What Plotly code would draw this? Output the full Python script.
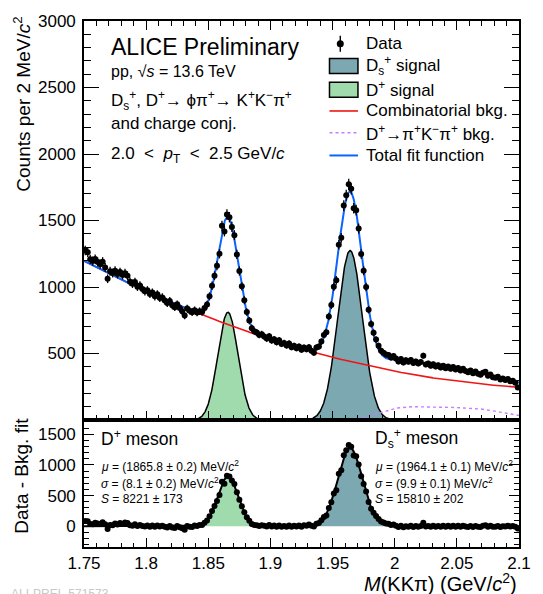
import numpy as np
import plotly.graph_objects as go

# ---------------- data ----------------
MASS_MIN, MASS_MAX, BIN_WIDTH = 1.75, 2.10, 0.002

counts = [
    1275, 1262, 1208, 1195, 1210, 1188, 1172, 1190, 1147, 1062,
    1118, 1105, 1122, 1098, 1112, 1090, 1104, 1085, 1040, 1025,
    1038, 1002, 1012, 985, 968, 975, 948, 958, 930, 945,
    918, 922, 898, 880, 895, 862, 848, 870, 842, 818,
    785, 838,
    822, 810, 825, 808, 818, 812, 842, 868, 930, 1010,
    1085, 1160, 1250, 1460, 1418, 1545, 1525, 1452, 1390, 1245,
    1120, 1005, 900, 812, 748, 690, 668, 658, 640,
    645, 628, 612, 630, 598, 608, 585, 600, 572, 580,
    560, 575, 548, 558, 540, 552, 528, 545, 532, 548,
    520, 505, 545, 552,
    590, 640, 660, 778, 865, 1002, 1050, 1318, 1370, 1612,
    1690, 1772, 1738, 1592, 1578, 1440, 1248, 1122, 1000, 830,
    722, 656, 606, 558, 520, 505, 492, 488, 470, 482,
    462, 440, 458, 432, 450, 438, 452, 428, 440, 425,
    436, 484, 418, 425, 408, 420, 402, 412, 395, 408,
    390, 402, 385, 398, 380, 392, 372, 385, 368, 360,
    372, 352, 364, 348, 340, 356, 362, 332, 342, 322,
    318, 326, 305, 312, 300, 308, 292, 296, 280, 245,
]

# fit results (from the figure)
DPLUS = dict(mu=1.8658, sigma=0.0081, S=8221)
DS = dict(mu=1.9641, sigma=0.0099, S=15810)
bkg_pol2 = [1196.0, -4835.0, 6067.0]          # combinatorial bkg, pol2 in (M - 1.75)
refl_mass = [1.94, 1.95, 1.96, 1.97, 1.98, 1.99, 2.00, 2.01, 2.02,
             2.03, 2.04, 2.05, 2.06, 2.07, 2.08, 2.09, 2.10]
refl_counts = [0, 0, 3, 8, 30, 60, 88, 100, 100,
               98, 96, 94, 90, 82, 68, 50, 34]

x_ticks = [1.75, 1.8, 1.85, 1.9, 1.95, 2.0, 2.05, 2.1]
x_ticktext = ["1.75", "1.8", "1.85", "1.9", "1.95", "2", "2.05", "2.1"]
y_ticks_top = [0, 500, 1000, 1500, 2000, 2500, 3000]
y_ticktext_top = ["", "500", "1000", "1500", "2000", "2500", "3000"]
y_ticks_bot = [0, 500, 1000, 1500]

# ---------------- derived ----------------
counts = np.array(counts, dtype=float)
mass = MASS_MIN + BIN_WIDTH * (np.arange(len(counts)) + 0.5)
err = np.sqrt(counts)


def gaus(x, p):
    return p["S"] * BIN_WIDTH / (np.sqrt(2 * np.pi) * p["sigma"]) * np.exp(-0.5 * ((x - p["mu"]) / p["sigma"]) ** 2)


def comb_bkg(x):
    t = x - MASS_MIN
    return bkg_pol2[0] + bkg_pol2[1] * t + bkg_pol2[2] * t ** 2


def refl(x):
    return np.interp(x, refl_mass, refl_counts)


xf = np.linspace(MASS_MIN, MASS_MAX, 1401)
g1 = gaus(xf, DPLUS)
g2 = gaus(xf, DS)
bk = comb_bkg(xf)
rf = refl(xf)
total = bk + rf + g1 + g2

resid = counts - comb_bkg(mass) - refl(mass)

m1 = (xf > DPLUS["mu"] - 3.6 * DPLUS["sigma"]) & (xf < DPLUS["mu"] + 3.6 * DPLUS["sigma"])
m2 = (xf > DS["mu"] - 3.6 * DS["sigma"]) & (xf < DS["mu"] + 3.6 * DS["sigma"])
mr = xf >= 1.95

C_DS = "#7ba8b1"
C_DP = "#a0dbae"
C_RED = "#f01414"
C_BLUE = "#0a64ff"
C_PURP = "#c77dff"
FONT = "Liberation Sans, Arial, Helvetica, sans-serif"

fig = go.Figure()

# ---- upper panel ----
fig.add_trace(go.Scatter(x=xf[m2], y=g2[m2], mode="lines", fill="tozeroy", fillcolor=C_DS,
                         line=dict(color="black", width=1.5), xaxis="x", yaxis="y", hoverinfo="skip"))
fig.add_trace(go.Scatter(x=xf[m1], y=g1[m1], mode="lines", fill="tozeroy", fillcolor=C_DP,
                         line=dict(color="black", width=1.5), xaxis="x", yaxis="y", hoverinfo="skip"))
fig.add_trace(go.Scatter(x=xf, y=bk, mode="lines", line=dict(color=C_RED, width=1.6),
                         xaxis="x", yaxis="y"))
fig.add_trace(go.Scatter(x=xf[mr], y=rf[mr], mode="lines", line=dict(color=C_PURP, width=1.4, dash="3px,3px"),
                         xaxis="x", yaxis="y"))
fig.add_trace(go.Scatter(x=xf, y=total, mode="lines", line=dict(color=C_BLUE, width=2),
                         xaxis="x", yaxis="y"))
fig.add_trace(go.Scatter(x=mass, y=counts, mode="markers",
                         marker=dict(color="black", size=6),
                         error_y=dict(type="data", array=err, color="black", thickness=1.3, width=0),
                         xaxis="x", yaxis="y"))

# ---- lower panel ----
fig.add_trace(go.Scatter(x=xf[m2], y=g2[m2], mode="lines", fill="tozeroy", fillcolor=C_DS,
                         line=dict(color="rgba(0,0,0,0)", width=0), xaxis="x2", yaxis="y2"))
fig.add_trace(go.Scatter(x=xf[m1], y=g1[m1], mode="lines", fill="tozeroy", fillcolor=C_DP,
                         line=dict(color="rgba(0,0,0,0)", width=0), xaxis="x2", yaxis="y2"))
fig.add_trace(go.Scatter(x=xf, y=g1 + g2, mode="lines", line=dict(color="black", width=2),
                         xaxis="x2", yaxis="y2"))
fig.add_trace(go.Scatter(x=mass, y=resid, mode="markers",
                         marker=dict(color="black", size=6),
                         error_y=dict(type="data", array=err, color="black", thickness=1.3, width=0),
                         xaxis="x2", yaxis="y2"))

SPLIT = 0.2414
tickfont = dict(family=FONT, size=17, color="black")
common = dict(showgrid=False, zeroline=False, showline=True, linecolor="black", linewidth=1.6,
              ticks="inside", tickcolor="black", tickwidth=1.4, tickfont=tickfont)

fig.update_layout(
    width=543, height=594,
    margin=dict(l=84, r=16, t=15, b=47),
    paper_bgcolor="white", plot_bgcolor="white",
    showlegend=False,
    font=dict(family=FONT, color="black"),
    xaxis=dict(domain=[0, 1], range=[MASS_MIN, MASS_MAX], anchor="y", showticklabels=False,
               tickmode="array", tickvals=x_ticks, ticklen=9, mirror="ticks",
               minor=dict(ticks="inside", ticklen=5, dtick=0.01, tick0=MASS_MIN, tickcolor="black", tickwidth=1.2),
               **common),
    yaxis=dict(domain=[SPLIT, 1], range=[0, 3000], anchor="x",
               tickmode="array", tickvals=y_ticks_top, ticktext=y_ticktext_top, ticklen=15, mirror="ticks",
               ticklabelstandoff=3,
               minor=dict(ticks="inside", ticklen=7, dtick=100, tick0=0, tickcolor="black", tickwidth=1.2),
               **common),
    xaxis2=dict(domain=[0, 1], range=[MASS_MIN, MASS_MAX], anchor="y2",
                tickmode="array", tickvals=x_ticks, ticktext=x_ticktext, ticklen=9, mirror=True,
                minor=dict(ticks="inside", ticklen=4, dtick=0.01, tick0=MASS_MIN, tickcolor="black", tickwidth=1.2),
                **common),
    yaxis2=dict(domain=[0, SPLIT], range=[-339, 1732], anchor="x2",
                tickmode="array", tickvals=y_ticks_bot, ticklen=10, mirror="ticks",
                ticklabelstandoff=3,
                minor=dict(ticks="inside", ticklen=5, dtick=100, tick0=0, tickcolor="black", tickwidth=1.2),
                **common),
)


def px2x(px):
    return (px - 84) / 443.0


def py2y(py):
    return (547 - py) / 532.0


anns = []


def txt(s, px, py, size, xanchor="left", yanchor="middle", angle=0, color="black"):
    anns.append(dict(text=s, x=px2x(px), y=py2y(py), xref="paper", yref="paper",
                     xanchor=xanchor, yanchor=yanchor, showarrow=False, textangle=angle,
                     font=dict(family=FONT, size=size, color=color)))


SP = "&#160;"
# header text
txt("ALICE Preliminary", 109, 41, 23)
txt("pp, √<i>s</i> = 13.6 TeV", 109, 66, 16)
txt("D<sub>s</sub><sup>+</sup>, D<sup>+</sup>→ ϕπ<sup>+</sup>→ K<sup>+</sup>K<sup>−</sup>π<sup>+</sup>", 109, 95, 17)
txt("and charge conj.", 109, 119, 17)
txt("2.0" + SP * 2 + "&lt;" + SP * 2 + "<i>p</i><sub>T</sub>" + SP * 2 + "&lt;" + SP * 2 + "2.5 GeV/<i>c</i>",
    109, 151, 17)

# legend text
leg_y = [38, 60, 84, 106, 128, 151]
leg_txt = ["Data", "D<sub>s</sub><sup>+</sup> signal", "D<sup>+</sup> signal", "Combinatorial bkg.",
           "D<sup>+</sup>→π<sup>+</sup>K<sup>−</sup>π<sup>+</sup> bkg.", "Total fit function"]
for s, yy in zip(leg_txt, leg_y):
    txt(s, 369, yy, 17)

# lower panel text
txt("D<sup>+</sup> meson", 99, 437, 17.5)
txt("<i>μ</i> = (1865.8 ± 0.2) MeV/<i>c</i><sup>2</sup>", 99, 465, 12)
txt("<i>σ</i> = (8.1 ± 0.2) MeV/<i>c</i><sup>2</sup>", 99, 482, 12)
txt("<i>S</i> = 8221 ± 173", 99, 498, 12)
txt("D<sub>s</sub><sup>+</sup> meson", 378, 437, 17.5)
txt("<i>μ</i> = (1964.1 ± 0.1) MeV/<i>c</i><sup>2</sup>", 378, 465, 12)
txt("<i>σ</i> = (9.9 ± 0.1) MeV/<i>c</i><sup>2</sup>", 378, 482, 12)
txt("<i>S</i> = 15810 ± 202", 378, 498, 12)

# axis titles
txt("Counts per 2 MeV/<i>c</i><sup>2</sup>", 20, 9, 19, xanchor="center", yanchor="top", angle=-90)
txt("Data - Bkg. fit", 20, 414, 19, xanchor="center", yanchor="top", angle=-90)
txt("<i>M</i>(KKπ) (GeV/<i>c</i><sup>2</sup>)", 527, 583, 20, xanchor="right", yanchor="middle")
txt("ALI-PREL-571573", 8, 585, 12, yanchor="top", color="#c8c8c8")

fig.update_layout(annotations=anns)

# legend symbols
shapes = []
xl0, xl1 = px2x(334), px2x(363)
shapes.append(dict(type="line", xref="paper", yref="paper", x0=px2x(345), x1=px2x(345),
                   y0=py2y(30), y1=py2y(46), line=dict(color="black", width=1.4)))
shapes.append(dict(type="circle", xref="paper", yref="paper", xsizemode="pixel", ysizemode="pixel",
                   xanchor=px2x(345), yanchor=py2y(38), x0=-3.5, x1=3.5, y0=-3.5, y1=3.5,
                   fillcolor="black", line=dict(color="black", width=0)))
shapes.append(dict(type="rect", xref="paper", yref="paper", x0=xl0, x1=xl1, y0=py2y(53), y1=py2y(68),
                   fillcolor=C_DS, line=dict(color="black", width=1.5)))
shapes.append(dict(type="rect", xref="paper", yref="paper", x0=xl0, x1=xl1, y0=py2y(77), y1=py2y(92),
                   fillcolor=C_DP, line=dict(color="black", width=1.5)))
shapes.append(dict(type="line", xref="paper", yref="paper", x0=xl0, x1=xl1, y0=py2y(106), y1=py2y(106),
                   line=dict(color=C_RED, width=1.6)))
shapes.append(dict(type="line", xref="paper", yref="paper", x0=xl0, x1=xl1, y0=py2y(128), y1=py2y(128),
                   line=dict(color=C_PURP, width=1.4, dash="3px,3px")))
shapes.append(dict(type="line", xref="paper", yref="paper", x0=xl0, x1=xl1, y0=py2y(151), y1=py2y(151),
                   line=dict(color=C_BLUE, width=2)))
fig.update_layout(shapes=shapes)

fig.write_html("out.html")
